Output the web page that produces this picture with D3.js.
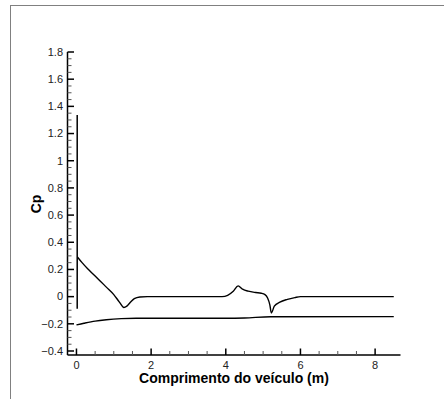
<!DOCTYPE html>
<html>
<head>
<meta charset="utf-8">
<script src="https://cdn.jsdelivr.net/npm/d3@7"></script>
<style>
body { margin: 0; background: #fff; }
svg { display: block; }
</style>
</head>
<body>
<div id="chart"></div>
<script>
// Cp along the vehicle length, two surfaces
var w = 444;
var h = 399;

// stagnation spike at the nose
var spikeX = [0.02, 0.02];
var spikeY = [-0.09, 1.336];

// upper curve
var upperX = [0.03, 0.15, 0.3, 0.45, 0.6, 0.8, 1.0, 1.15, 1.27, 1.35, 1.45, 1.55, 1.7, 1.9, 3.9, 4.05, 4.2, 4.33, 4.45, 4.6, 4.8, 4.95, 5.05, 5.12, 5.18, 5.22, 5.3, 5.45, 5.65, 5.85, 6.0, 8.5];
var upperY = [0.29, 0.25, 0.205, 0.165, 0.125, 0.07, 0.015, -0.04, -0.08, -0.07, -0.04, -0.015, -0.003, 0, 0, 0.01, 0.04, 0.079, 0.055, 0.04, 0.03, 0.025, 0.015, -0.01, -0.06, -0.12, -0.07, -0.04, -0.02, -0.007, 0, 0];

// lower curve
var lowerX = [0.0, 0.2, 0.5, 0.8, 1.2, 1.6, 4.0, 4.5, 5.2, 8.5];
var lowerY = [-0.208, -0.196, -0.18, -0.17, -0.162, -0.159, -0.159, -0.157, -0.148, -0.147];

var xMajor = [0, 2, 4, 6, 8];
var yMajor = [-0.4, -0.2, 0, 0.2, 0.4, 0.6, 0.8, 1, 1.2, 1.4, 1.6, 1.8];

var svg = d3.select("#chart")
    .append("svg")
    .attr("width", w)
    .attr("height", h);

// gray frame, top and left only
svg.append("line")
    .attr("x1", 10).attr("y1", 5.5).attr("x2", w).attr("y2", 5.5)
    .attr("stroke", "#808080").attr("stroke-width", 1);
svg.append("line")
    .attr("x1", 10.5).attr("y1", 5).attr("x2", 10.5).attr("y2", h)
    .attr("stroke", "#808080").attr("stroke-width", 1);

var xScale = d3.scaleLinear().domain([-0.24, 8.68]).range([67.5, 400.5]);
var yScale = d3.scaleLinear().domain([-0.4, 1.8]).range([351, 52]);
var yBottom = 355;

// minor ticks from the major ones
var xMinor = d3.range(0, 17).map(function(i) { return i * 0.5; }).filter(function(v) { return v % 2 !== 0; });
var yMinor = d3.range(-8, 36).map(function(i) { return i * 0.05; })
    .filter(function(v) { return Math.abs(Math.round(v * 5) - v * 5) > 1e-6; });

var axes = svg.append("g").attr("stroke", "#000");

axes.append("line")
    .attr("x1", 67.5).attr("y1", yScale(1.8)).attr("x2", 67.5).attr("y2", yBottom)
    .attr("stroke-width", 1.5);
axes.append("line")
    .attr("x1", 67.5).attr("y1", yBottom).attr("x2", 400.5).attr("y2", yBottom)
    .attr("stroke-width", 1.5);

axes.selectAll(".ymaj").data(yMajor).enter().append("line")
    .attr("x1", 67.5).attr("x2", 74)
    .attr("y1", function(d) { return yScale(d); })
    .attr("y2", function(d) { return yScale(d); })
    .attr("stroke-width", 1.5);
axes.selectAll(".ymin").data(yMinor).enter().append("line")
    .attr("x1", 67.5).attr("x2", 71.5)
    .attr("y1", function(d) { return yScale(d); })
    .attr("y2", function(d) { return yScale(d); })
    .attr("stroke-width", 1).attr("stroke", "#555");

axes.selectAll(".xmaj").data(xMajor).enter().append("line")
    .attr("x1", function(d) { return xScale(d); })
    .attr("x2", function(d) { return xScale(d); })
    .attr("y1", yBottom).attr("y2", yBottom - 6.5)
    .attr("stroke-width", 1.5);
axes.selectAll(".xmin").data(xMinor).enter().append("line")
    .attr("x1", function(d) { return xScale(d); })
    .attr("x2", function(d) { return xScale(d); })
    .attr("y1", yBottom).attr("y2", yBottom - 4)
    .attr("stroke-width", 1).attr("stroke", "#555");

var fmt = d3.format("~g");

svg.selectAll(".ylab").data(yMajor).enter().append("text")
    .attr("x", 63)
    .attr("y", function(d) { return yScale(d); })
    .attr("dy", "0.35em")
    .attr("text-anchor", "end")
    .style("font-family", "Liberation Sans, Arial, sans-serif")
    .style("font-size", "11px")
    .style("fill", "#222")
    .text(function(d) { return fmt(d); });

svg.selectAll(".xlab").data(xMajor).enter().append("text")
    .attr("x", function(d) { return xScale(d); })
    .attr("y", 368.5)
    .attr("text-anchor", "middle")
    .style("font-family", "Liberation Sans, Arial, sans-serif")
    .style("font-size", "11px")
    .style("fill", "#222")
    .text(function(d) { return fmt(d); });

svg.append("text")
    .attr("x", 234)
    .attr("y", 383)
    .attr("text-anchor", "middle")
    .style("font-family", "Liberation Sans, Arial, sans-serif")
    .style("font-size", "14px")
    .style("font-weight", "bold")
    .text("Comprimento do veículo (m)");

svg.append("text")
    .attr("transform", "translate(41,204) rotate(-90)")
    .attr("text-anchor", "middle")
    .style("font-family", "Liberation Sans, Arial, sans-serif")
    .style("font-size", "14px")
    .style("font-weight", "bold")
    .text("Cp");

var line = d3.line()
    .x(function(d) { return xScale(d[0]); })
    .y(function(d) { return yScale(d[1]); });

var smooth = d3.line()
    .curve(d3.curveMonotoneX)
    .x(function(d) { return xScale(d[0]); })
    .y(function(d) { return yScale(d[1]); });

svg.append("path")
    .attr("d", line(d3.zip(spikeX, spikeY)))
    .style("fill", "none").style("stroke", "#000").style("stroke-width", 1.5);

svg.selectAll(".line").data([d3.zip(upperX, upperY), d3.zip(lowerX, lowerY)]).enter().append("path")
    .attr("class", "line")
    .attr("d", function(d) { return smooth(d); })
    .style("fill", "none")
    .style("stroke", "#000")
    .style("stroke-width", 1.4)
    .style("stroke-linejoin", "round");
</script>
</body>
</html>
